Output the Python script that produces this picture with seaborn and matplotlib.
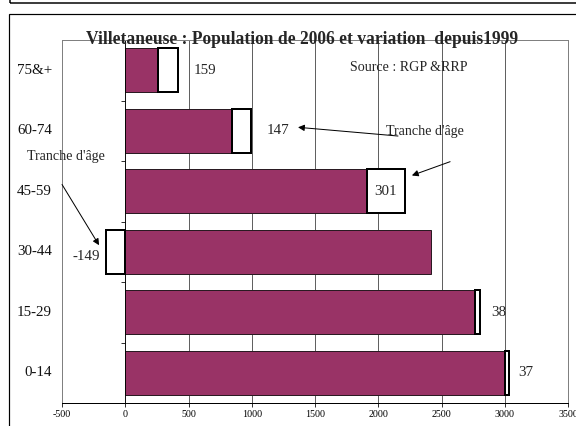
import matplotlib
matplotlib.use("Agg")
import matplotlib.pyplot as plt
import matplotlib.transforms as mtransforms
from matplotlib.patches import Rectangle
import seaborn as sns
import pandas as pd

# data (top to bottom as drawn)
age_groups = ["75&+", "60-74", "45-59", "30-44", "15-29", "0-14"]
base_pop = [258, 846, 1908, 2417, 2767, 3000]
variation = [159, 147, 301, -149, 38, 37]
# manual label x-positions (data units), as placed in the original
label_x = [538, 1119, None, -199, 2893, 3106]

title = "Villetaneuse : Population de 2006 et variation  depuis1999"
source = "Source : RGP &RRP"
note = "Tranche d'âge"
x_ticks = list(range(-500, 3501, 500))

sns.set_theme(style="white")
plt.rcParams["font.family"] = ["Liberation Serif", "DejaVu Serif"]

df = pd.DataFrame({"age": age_groups, "pop": base_pop, "var": variation})

fig = plt.figure(figsize=(8, 426 / 72), dpi=72)
ax = fig.add_axes([62 / 576, 1 - 403 / 426, (568 - 62) / 576, (403 - 40) / 426])

# gridlines
for t in x_ticks[1:-1]:
    ax.axvline(t, color="#3a3a3a", lw=0.8, zorder=0)

sns.barplot(data=df, x="pop", y="age", orient="h", order=age_groups,
            color="#993366", saturation=1, width=0.72,
            edgecolor="#2a1a22", linewidth=1.0, ax=ax, zorder=2)

# variation boxes stacked on the population bar (negative goes left of 0)
lefts = [p if v >= 0 else 0 for p, v in zip(base_pop, variation)]
ax.barh(range(len(age_groups)), variation, left=lefts, height=0.72,
        color="white", edgecolor="black", linewidth=2.0, zorder=3)

ax.set_xlim(-500, 3500)
ax.set_ylim(len(age_groups) - 0.5, -0.5)
ax.set_xticks(x_ticks)
ax.set_xticklabels([str(t) for t in x_ticks], fontsize=10)
ax.set_xlabel("")
ax.set_ylabel("")

# y axis sits at x = 0 with ticks between categories
ax.spines["left"].set_position(("data", 0))
ax.spines["left"].set_color("black")
ax.spines["left"].set_linewidth(0.8)
ax.set_yticks([i + 0.5 for i in range(-1, len(age_groups))])
ax.set_yticklabels([])
ax.tick_params(axis="y", direction="out", length=4, width=0.8, color="black", left=True)
ax.tick_params(axis="x", direction="out", length=4, width=0.8, color="black",
               bottom=True, pad=3, labelcolor="black")
ax.spines["bottom"].set_color("black")
ax.spines["bottom"].set_linewidth(1.0)
for s in ["top", "right"]:
    ax.spines[s].set_color("#808080")
    ax.spines[s].set_linewidth(1.0)
ax.axvline(-500, color="#808080", lw=1.0, zorder=1)

# category labels at far left
trans = mtransforms.blended_transform_factory(fig.transFigure, ax.transData)
for i, g in enumerate(age_groups):
    ax.text(52 / 576, i, g, transform=trans, ha="right", va="center",
            fontsize=15, color="#111111")

# variation labels
for i, (p, v) in enumerate(zip(base_pop, variation)):
    if label_x[i] is None:
        ax.text(p + v / 2, i, str(v), ha="center", va="center", fontsize=15, zorder=5)
    elif v < 0:
        ax.text(label_x[i], i + 0.08, str(v), ha="right", va="center", fontsize=15, zorder=5)
    else:
        ax.text(label_x[i], i, str(v), ha="left", va="center", fontsize=15, zorder=5)

ax.text(2061, 1.02, note, ha="left", va="center", fontsize=14, zorder=5)
ax.text(-776, 1.43, note, ha="left", va="center", fontsize=14, zorder=5, clip_on=False)
ax.text(2704, -0.04, source, ha="right", va="center", fontsize=14, zorder=5)

arrow = dict(arrowstyle="-|>", color="black", lw=1.0, mutation_scale=13)
ax.annotate("", xy=(1350, 0.94), xytext=(2172, 1.09), arrowprops=arrow, zorder=5)
ax.annotate("", xy=(2251, 1.75), xytext=(2583, 1.5), arrowprops=arrow, zorder=5)
ax.annotate("", xy=(-199, 2.92), xytext=(-508, 1.86), arrowprops=arrow,
            annotation_clip=False, zorder=5)

fig.text(302 / 576, 1 - 40 / 426, title, ha="center", va="center",
         fontsize=17.5, fontweight="bold")

# outer frames
fig.patches.append(Rectangle((10 / 576, 1 - 3 / 426), 1.2, 0.2, transform=fig.transFigure,
                             fill=False, edgecolor="black", lw=1.5, figure=fig))
fig.patches.append(Rectangle((9 / 576, -0.2), 1.2, 1.2 - 14 / 426, transform=fig.transFigure,
                             fill=False, edgecolor="black", lw=1.2, figure=fig))

fig.savefig("out.png", dpi=72)
